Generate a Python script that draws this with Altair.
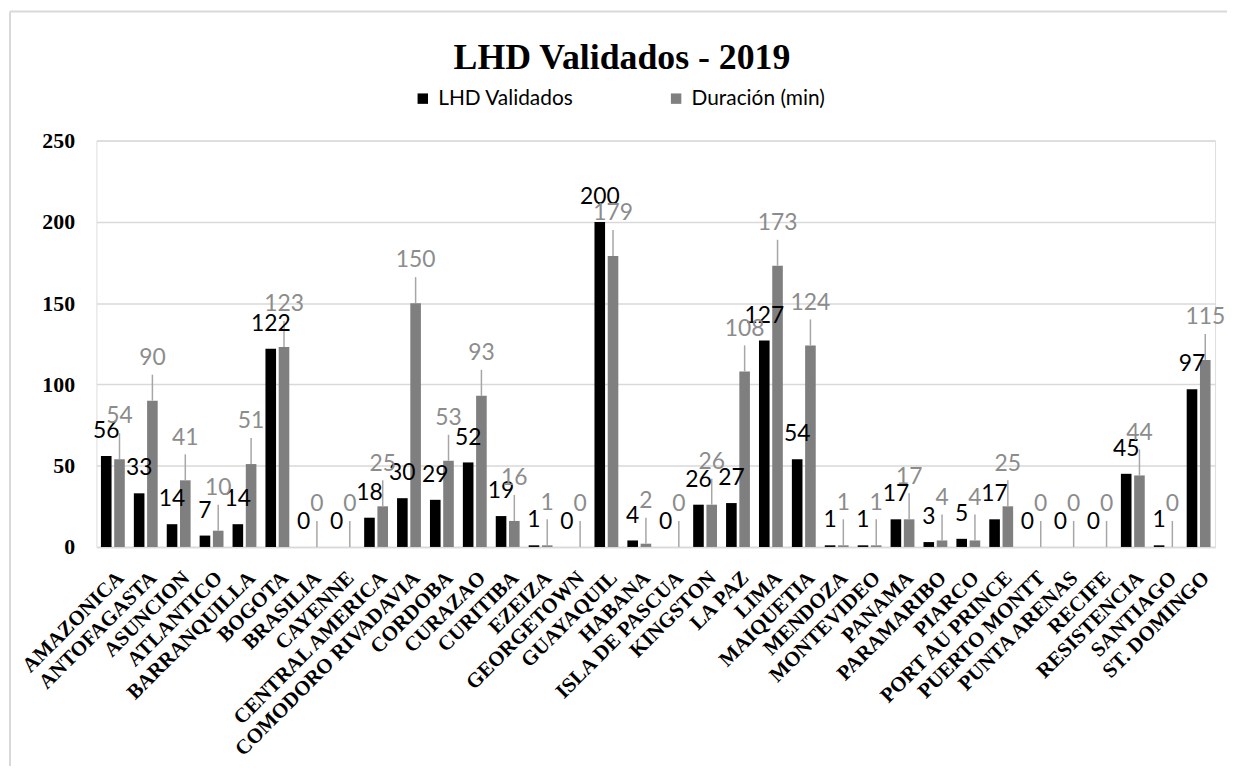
import altair as alt
import pandas as pd

categories = ["AMAZONICA", "ANTOFAGASTA", "ASUNCION", "ATLANTICO", "BARRANQUILLA", "BOGOTA",
              "BRASILIA", "CAYENNE", "CENTRAL AMERICA", "COMODORO RIVADAVIA", "CORDOBA", "CURAZAO",
              "CURITIBA", "EZEIZA", "GEORGETOWN", "GUAYAQUIL", "HABANA", "ISLA DE PASCUA", "KINGSTON",
              "LA PAZ", "LIMA", "MAIQUETIA", "MENDOZA", "MONTEVIDEO", "PANAMA", "PARAMARIBO", "PIARCO",
              "PORT AU PRINCE", "PUERTO MONTT", "PUNTA ARENAS", "RECIFE", "RESISTENCIA", "SANTIAGO",
              "ST. DOMINGO"]
lhd_validados = [56, 33, 14, 7, 14, 122, 0, 0, 18, 30, 29, 52, 19, 1, 0, 200, 4, 0, 26, 27, 127, 54,
                 1, 1, 17, 3, 5, 17, 0, 0, 0, 45, 1, 97]
duracion_min = [54, 90, 41, 10, 51, 123, 0, 0, 25, 150, 53, 93, 16, 1, 0, 179, 2, 0, 26, 108, 173, 124,
                1, 1, 17, 4, 4, 25, 0, 0, 0, 44, 0, 115]
series_names = ["LHD Validados", "Duración (min)"]
y_ticks = [0, 50, 100, 150, 200, 250]
title_text = ["LHD Validados - 2019"]

rows = []
for c, a, b in zip(categories, lhd_validados, duracion_min):
    rows.append({"cat": c, "series": series_names[0], "value": a})
    rows.append({"cat": c, "series": series_names[1], "value": b})
df = pd.DataFrame(rows)

serif = "Liberation Serif"
sans = "Lato"

x_enc = alt.X("cat:N", sort=categories,
              scale=alt.Scale(domain=categories, paddingInner=0.275, paddingOuter=0.1375),
              axis=alt.Axis(title=None, labelAngle=-45, labelFont=serif, labelFontWeight="bold",
                            labelFontSize=21, labelColor="#000000", labelPadding=20, labelLimit=400,
                            ticks=False, domain=True, domainColor="#d9d9d9", domainWidth=1.5))
xo_enc = alt.XOffset("series:N", sort=series_names,
                     scale=alt.Scale(domain=series_names, paddingInner=0.2, paddingOuter=0))
y_enc = alt.Y("value:Q",
              scale=alt.Scale(domain=[0, 250], nice=False),
              axis=alt.Axis(title=None, values=y_ticks, labelFont=serif, labelFontWeight="bold",
                            labelFontSize=22, labelColor="#000000", labelPadding=22,
                            ticks=False, domain=False, grid=True, gridColor="#d9d9d9", gridWidth=1.5))

base = alt.Chart(df)
one = pd.DataFrame({"k": [0]})

border_top = alt.Chart(one).mark_rule(color="#d9d9d9", strokeWidth=2).encode(
    x=alt.value(-87), x2=alt.value(1160), y=alt.value(-130))
border_left = alt.Chart(one).mark_rule(color="#d9d9d9", strokeWidth=2).encode(
    x=alt.value(-87), y=alt.value(-130), y2=alt.value(700))

title = alt.Chart(pd.DataFrame({"t": title_text})).mark_text(
    font=serif, fontWeight="bold", fontSize=36, color="#000000", align="center", baseline="alphabetic"
).encode(text="t:N", x=alt.value(529), y=alt.value(-72))

bars = base.mark_bar().encode(
    x=x_enc, xOffset=xo_enc, y=y_enc,
    color=alt.Color("series:N", sort=series_names,
                    scale=alt.Scale(domain=series_names, range=["#000000", "#7f7f7f"]),
                    legend=alt.Legend(orient="none", legendX=318, legendY=-53, direction="horizontal",
                                      title=None, symbolType="square", symbolSize=110,
                                      symbolStrokeWidth=0, labelFont=sans, labelFontSize=21,
                                      labelColor="#000000", labelOffset=5, columnPadding=92))
)

leaders = base.transform_filter(
    alt.datum.series == series_names[1]
).transform_calculate(
    top="datum.value + 16"
).mark_rule(color="#a6a6a6", strokeWidth=1.5).encode(
    x=x_enc, xOffset=xo_enc, y=y_enc, y2="top:Q"
)

labels_black = base.transform_filter(
    alt.datum.series == series_names[0]
).mark_text(font=sans, fontSize=23, color="#000000", baseline="alphabetic", dy=-18).encode(
    x=x_enc, xOffset=xo_enc, y=y_enc, text="value:Q"
)

labels_grey = base.transform_filter(
    alt.datum.series == series_names[1]
).mark_text(font=sans, fontSize=23, color="#8c8c8c", baseline="alphabetic", dy=-36).encode(
    x=x_enc, xOffset=xo_enc, y=y_enc, text="value:Q"
)

chart = alt.layer(border_top, border_left, title, bars, leaders, labels_black, labels_grey).properties(
    width=1126, height=409,
    autosize=alt.AutoSizeParams(type="none"),
    padding={"left": 89, "top": 131, "right": 12, "bottom": 218},
).configure_view(stroke=None).configure(background="#ffffff")

chart.save("out.html", embed_options={"renderer": "svg", "actions": False})
